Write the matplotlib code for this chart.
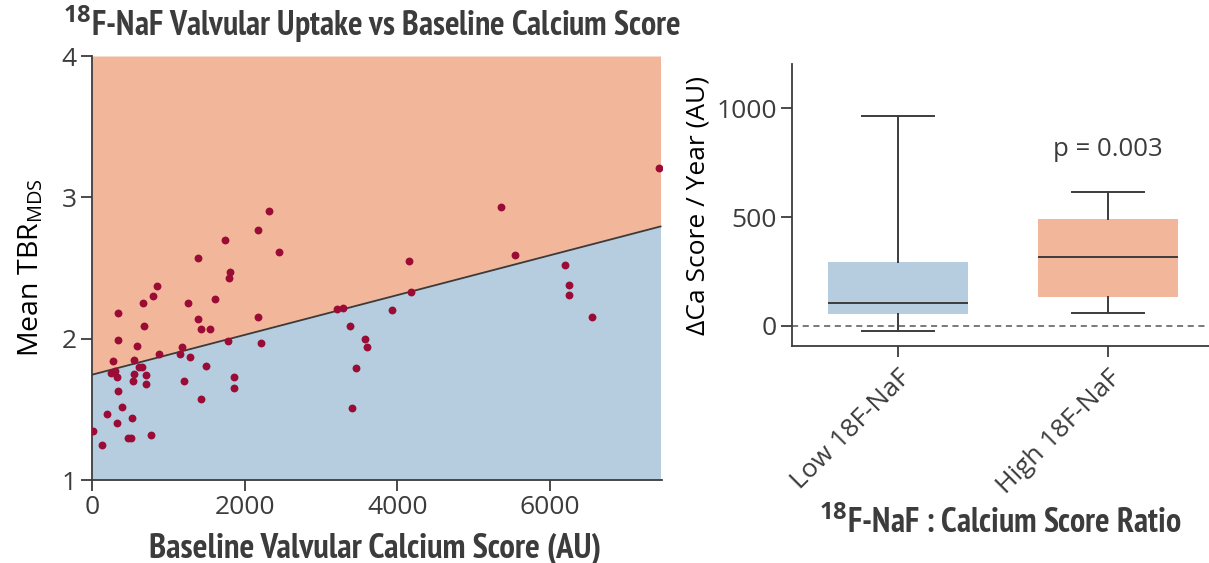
import numpy as np
import matplotlib
matplotlib.use("Agg")
import matplotlib.pyplot as plt
from matplotlib import font_manager

# ---------------------------------------------------------------
# data
# ---------------------------------------------------------------
calcium = [1390, 2452, 1810, 1797, 853, 800, 341, 669, 1259, 1613,
           1390, 1430, 1548, 682, 2177, 341, 1784, 2216, 590, 1180,
           879, 1154, 275, 551, 1285, 617, 656, 249, 302, 328,
           551, 708, 1495, 538, 708, 1207, 1862, 1862, 341, 393,
           197, 328, 525, 1430, 13, 131, 472, 511, 774,
           2321, 2177, 1744,
           7436, 5364, 4157, 5548, 4184, 3213, 3292, 6203, 6256, 6256,
           6557, 3934, 3384, 3580, 3607, 3462, 3410]
tbr = [2.57, 2.61, 2.475, 2.43, 2.376, 2.30, 2.18, 2.25, 2.25, 2.28,
       2.14, 2.07, 2.07, 2.09, 2.15, 1.99, 1.985, 1.97, 1.95, 1.94,
       1.89, 1.89, 1.84, 1.85, 1.87, 1.80, 1.80, 1.76, 1.77, 1.73,
       1.75, 1.74, 1.81, 1.70, 1.68, 1.70, 1.73, 1.65, 1.63, 1.52,
       1.47, 1.40, 1.44, 1.57, 1.35, 1.25, 1.30, 1.30, 1.32,
       2.90, 2.77, 2.70,
       3.21, 2.93, 2.55, 2.59, 2.33, 2.21, 2.22, 2.52, 2.38, 2.31,
       2.15, 2.20, 2.09, 2.00, 1.94, 1.79, 1.51]

# dividing line (ratio threshold)
line_x = [0, 7450]
line_y = [1.745, 2.794]

# box plot stats: whisker low, Q1, median, Q3, whisker high
groups = ["Low 18F-NaF", "High 18F-NaF"]
whislo = [-24, 57]
q1 = [55, 131]
med = [103, 315]
q3 = [293, 491]
whishi = [966, 614]
p_text = "p = 0.003"

# ---------------------------------------------------------------
orange = "#F2B69A"
blue = "#B6CCDF"
dot = "#9A0C36"
ink = "#3C3C3C"


# look for a bold condensed face for the headings
def find_condensed():
    cands = []
    for f in font_manager.fontManager.ttflist:
        fn = f.fname.lower()
        narrow = ("narrow" in fn or "condensed" in fn or f.stretch in ("condensed", "semi-condensed"))
        bold = ("bold" in fn or f.weight in ("bold", 700, 600, "semibold"))
        if narrow and bold and "italic" not in fn and "oblique" not in fn:
            cands.append(f)
    for key in ["narrow", "robotocondensed", "condensed"]:
        for f in cands:
            if key in f.fname.lower().replace(" ", "").replace("-", ""):
                return f.fname
    return cands[0].fname if cands else None


cond_file = find_condensed()


def head_font(size):
    if cond_file:
        return font_manager.FontProperties(fname=cond_file, size=size)
    return font_manager.FontProperties(family="Roboto", weight="bold", size=size - 2)


plt.rcParams["font.family"] = ["Open Sans", "DejaVu Sans"]
plt.rcParams["mathtext.fontset"] = "custom"
plt.rcParams["mathtext.rm"] = "Open Sans"
plt.rcParams["mathtext.bf"] = "Open Sans:bold"
plt.rcParams["text.color"] = ink
plt.rcParams["axes.edgecolor"] = ink
plt.rcParams["xtick.color"] = ink
plt.rcParams["ytick.color"] = ink

fig = plt.figure(figsize=(12.09, 5.63), dpi=100)
ax1 = fig.add_axes([0.0761, 0.1474, 0.4715, 0.7531])
ax2 = fig.add_axes([0.6551, 0.3854, 0.3449, 0.5009])

# ---------------- left: scatter with shaded regions ----------------
ax1.fill_between(line_x, line_y, 4, color=orange, lw=0)
ax1.fill_between(line_x, 1, line_y, color=blue, lw=0)
ax1.plot(line_x, line_y, color="#3a3a3a", lw=1.3)
ax1.scatter(calcium, tbr, s=32, color=dot, zorder=3, lw=0)
ax1.set_xlim(0, 7470)
ax1.set_ylim(1, 4)
ax1.set_xticks([0, 2000, 4000, 6000])
ax1.set_yticks([1, 2, 3, 4])
for s in ["top", "right"]:
    ax1.spines[s].set_visible(False)
for s in ["left", "bottom"]:
    ax1.spines[s].set_linewidth(1.3)
ax1.tick_params(labelsize=19, length=8, width=1.3, pad=3)
ax1.set_ylabel("Mean TBR$_{\\mathrm{MDS}}$", fontsize=20.5, labelpad=12)

# ---------------- right: box plot ----------------
stats = []
for i in range(len(groups)):
    stats.append({"whislo": whislo[i], "q1": q1[i], "med": med[i],
                  "q3": q3[i], "whishi": whishi[i], "fliers": []})
bp = ax2.bxp(stats, positions=[1, 2], widths=0.665, patch_artist=True,
             showfliers=False, capwidths=0.345,
             boxprops=dict(lw=0),
             medianprops=dict(color=ink, lw=1.4),
             whiskerprops=dict(color=ink, lw=1.4),
             capprops=dict(color=ink, lw=1.4))
for patch, c in zip(bp["boxes"], [blue, orange]):
    patch.set_facecolor(c)
ax2.axhline(0, color="#555555", lw=1.1, ls=(0, (4, 3)), zorder=0)
ax2.text(2, 813, p_text, ha="center", va="center", fontsize=18.5)
ax2.set_xlim(0.495, 2.48)
ax2.set_ylim(-93, 1204)
ax2.set_yticks([0, 500, 1000])
ax2.set_xticks([1, 2])
ax2.set_xticklabels(groups, rotation=45, ha="right", rotation_mode="anchor")
for s in ["top", "right"]:
    ax2.spines[s].set_visible(False)
for s in ["left", "bottom"]:
    ax2.spines[s].set_linewidth(1.3)
ax2.tick_params(labelsize=19, length=8, width=1.3, pad=3)
ax2.tick_params(axis="x", pad=6)
ax2.set_ylabel("\u0394Ca Score / Year (AU)", fontsize=19, labelpad=4)

# ---------------- figure texts ----------------
fig.text(0.052, 0.957, "$^{\\mathbf{18}}$F-NaF Valvular Uptake vs Baseline Calcium Score",
         fontproperties=head_font(24.5), va="center", ha="left")
fig.text(0.310, 0.025, "Baseline Valvular Calcium Score (AU)",
         fontproperties=head_font(25), va="center", ha="center")
fig.text(0.827, 0.071, "$^{\\mathbf{18}}$F-NaF : Calcium Score Ratio",
         fontproperties=head_font(24.5), va="center", ha="center")

fig.savefig("out.png", dpi=100)
